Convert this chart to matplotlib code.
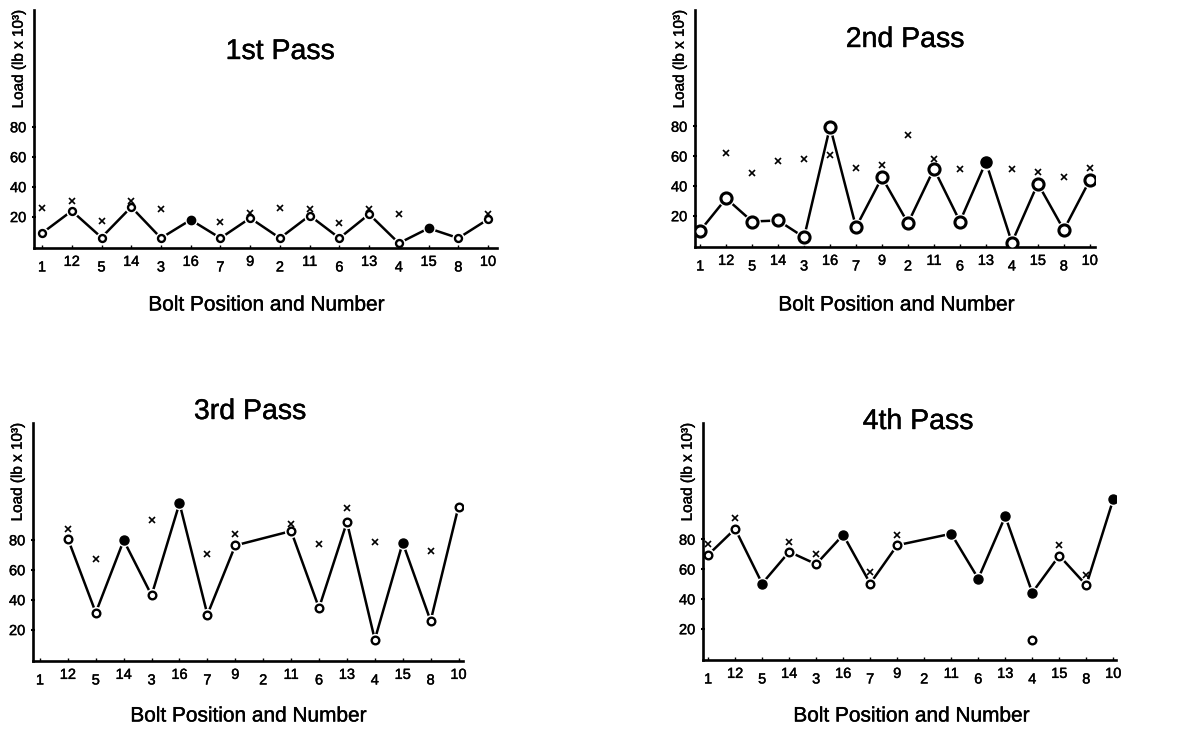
# Bolt load vs. bolt position for four tightening passes (2x2 panels).

import numpy as np
import matplotlib
matplotlib.use("Agg")
import matplotlib.pyplot as plt
import matplotlib.patheffects as pe

plt.rcParams["font.family"] = ["Liberation Sans", "DejaVu Sans"]

nan = np.nan

# bolt numbers in tightening order along the x axis
BOLTS = ["1", "12", "5", "14", "3", "16", "7", "9", "2", "11", "6", "13", "4", "15", "8", "10"]

# load (lb x 10^3) per bolt; nan = no reading
PASS1_LOAD = [8.9, 23.8, 6.0, 26.4, 5.6, 17.8, 5.6, 19.0, 5.6, 20.7, 5.6, 21.6, 2.2, 12.2, 5.6, 18.2]
PASS1_CROSS = [26.0, 30.4, 17.0, 30.4, 25.0, nan, 16.7, 22.7, 25.6, 25.0, 16.0, 25.0, 21.6, nan, nan, 22.0]
PASS1_SOLID = ["16", "15"]

PASS2_LOAD = [10.0, 31.6, 16.1, 16.8, 5.5, 79.8, 12.3, 45.7, 15.0, 51.4, 16.1, 56.0, 2.0, 41.6, 10.5, 43.9]
PASS2_CROSS = [nan, 62.3, 48.4, 56.6, 58.2, 60.5, 51.8, 54.0, 74.0, 58.2, 51.0, nan, 51.4, 49.0, 45.7, 51.8]
PASS2_SOLID = ["13"]

PASS3_LOAD = [nan, 80.7, 31.3, 79.6, 42.9, 104.4, 30.0, 76.2, nan, 85.8, 34.4, 91.8, 13.3, 78.0, 25.8, 102.2]
PASS3_CROSS = [nan, 87.3, 66.9, nan, 92.9, nan, 70.2, 84.0, nan, 90.7, 77.3, 101.0, 78.4, nan, 72.4, nan]
PASS3_SOLID = ["14", "16", "15"]

PASS4_LOAD = [69.5, 87.0, 50.3, 71.6, 63.3, 83.0, 50.3, 76.0, nan, 83.7, 53.6, 95.4, 44.2, 69.0, 49.2, 106.8]
PASS4_CROSS = [76.7, 94.0, nan, 78.2, 69.9, nan, 57.8, 82.6, nan, nan, nan, nan, nan, 76.0, 56.3, nan]
PASS4_SOLID = ["5", "16", "11", "6", "13", "4", "10"]
PASS4_STRAY_BOLT = ["4"]
PASS4_STRAY_LOAD = [12.7]

W, H = 1190, 729

# (title, load, cross, solid, box px (l, t, r, b), xlim, title px, xlabel px, circle size)
PANELS = [
    ("1st Pass", PASS1_LOAD, PASS1_CROSS, PASS1_SOLID,
     (34, 10, 497, 248), (-0.27, 15.3), (280, 52), (267, 305), 5.0),
    ("2nd Pass", PASS2_LOAD, PASS2_CROSS, PASS2_SOLID,
     (695, 10, 1095, 247), (-0.2, 15.2), (905, 40), (897, 305), 8.0),
    ("3rd Pass", PASS3_LOAD, PASS3_CROSS, PASS3_SOLID,
     (33, 423, 463, 661), (-0.25, 15.16), (250, 412), (249, 716), 5.5),
    ("4th Pass", PASS4_LOAD, PASS4_CROSS, PASS4_SOLID,
     (703, 423, 1116, 660), (-0.19, 15.1), (918, 422), (912, 716), 5.5),
]

# scanned print look: slightly heavier strokes on text
HEAVY = [pe.withStroke(linewidth=0.3, foreground="black")]


def draw_panel(fig, title, load, cross, solid, box, xlim, title_xy, xlabel_xy, ms):
    l, t, r, b = box
    ax = fig.add_axes([l / W, 1 - b / H, (r - l) / W, (b - t) / H])

    x = np.arange(len(BOLTS))
    load = np.asarray(load, dtype=float)
    cross = np.asarray(cross, dtype=float)
    ok = ~np.isnan(load)
    is_solid = np.array([bn in solid for bn in BOLTS])

    ax.plot(x[ok], load[ok], color="black", lw=1.8, zorder=2)
    # white halo so the line stops short of the markers
    ax.plot(x[ok], load[ok], "o", ms=ms + 3, color="white", mec="white", zorder=2.5)
    m_open = ok & ~is_solid
    m_fill = ok & is_solid
    ax.plot(x[m_open], load[m_open], "o", ms=ms, mfc="white", mec="black",
            mew=1.7 if ms < 7 else 2.2, zorder=3)
    ax.plot(x[m_fill], load[m_fill], "o", ms=ms + 1 if ms < 7 else ms, color="black", zorder=3)
    ax.plot(x, cross, "x", ms=5, mew=1.2, color="black", zorder=4)

    if title == "4th Pass":
        xs = [BOLTS.index(bn) for bn in PASS4_STRAY_BOLT]
        ax.plot(xs, PASS4_STRAY_LOAD, "o", ms=ms, mfc="white", mec="black", mew=1.7, zorder=3)

    ax.set_xlim(*xlim)
    ax.set_ylim(-1, 158)
    for side in ("top", "right"):
        ax.spines[side].set_visible(False)
    for side in ("left", "bottom"):
        ax.spines[side].set_linewidth(1.9)

    ax.set_yticks([20, 40, 60, 80])
    ax.tick_params(axis="y", length=3, width=1.5, direction="inout", pad=4, labelsize=10.5)
    for lbl in ax.get_yticklabels():
        lbl.set_path_effects(HEAVY)
    ax.set_xticks(x)
    ax.set_xticklabels([])
    ax.tick_params(axis="x", length=2, width=1.0, direction="in")

    # staggered bolt labels under the axis
    for i, bn in enumerate(BOLTS):
        dy = -14 if i % 2 == 0 else -10
        ax.annotate(bn, xy=(i, 0), xycoords=("data", "axes fraction"),
                    xytext=(0, dy), textcoords="offset points",
                    ha="center", va="center", fontsize=10.5, path_effects=HEAVY)

    ax.annotate("Load (lb x 10³)", xy=(0, 1), xycoords="axes fraction",
                xytext=(-11, 0), textcoords="offset points",
                ha="center", va="top", rotation=90, fontsize=11, path_effects=HEAVY)

    fig.text(title_xy[0] / W, 1 - title_xy[1] / H, title,
             ha="center", va="center", fontsize=20.5, path_effects=HEAVY)
    fig.text(xlabel_xy[0] / W, 1 - xlabel_xy[1] / H, "Bolt Position and Number",
             ha="center", va="center", fontsize=15, path_effects=HEAVY)
    return ax


fig = plt.figure(figsize=(W / 100, H / 100), dpi=100)
for spec in PANELS:
    draw_panel(fig, *spec)

fig.savefig("out.png", dpi=100)
